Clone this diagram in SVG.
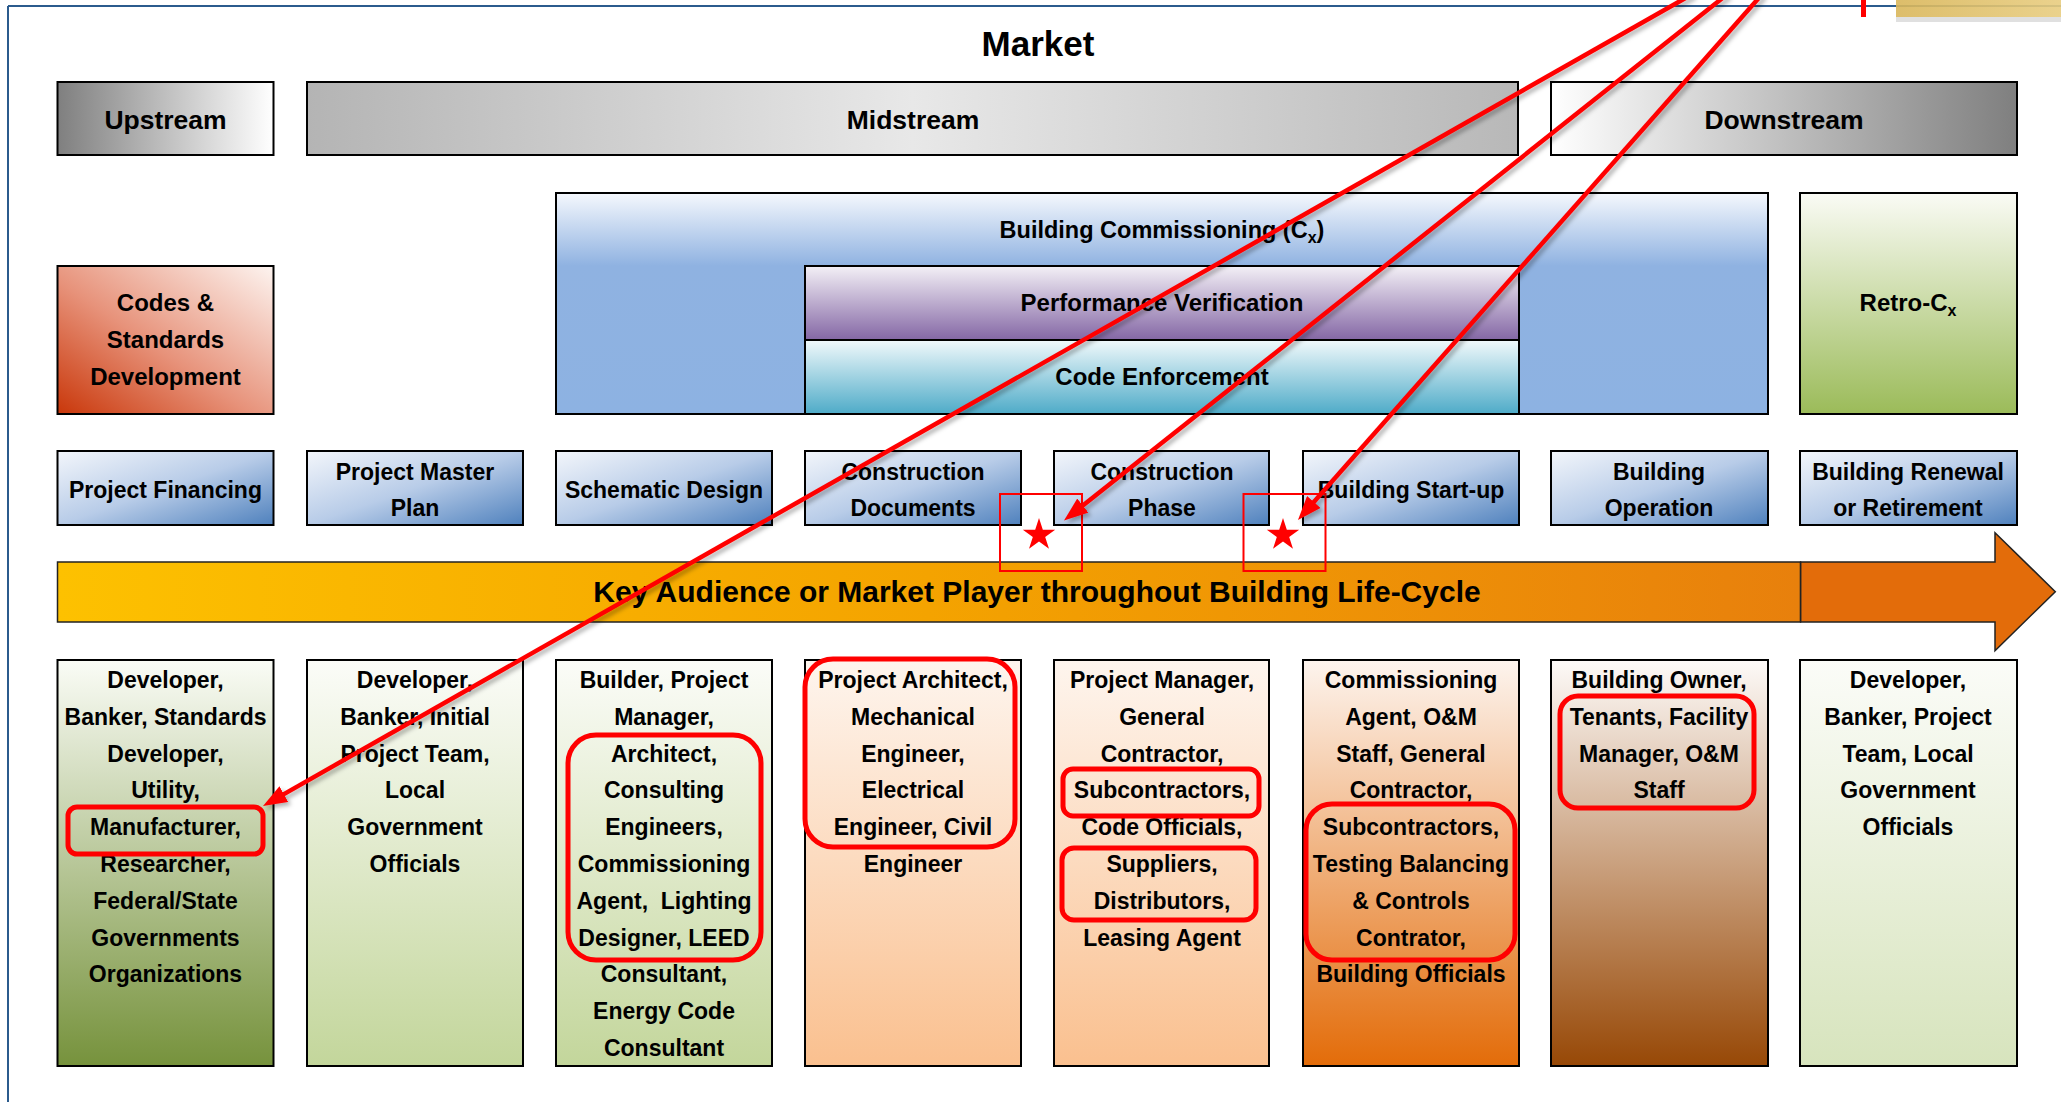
<svg xmlns="http://www.w3.org/2000/svg" width="2061" height="1102" viewBox="0 0 2061 1102">
<style>
.t{font-family:"Liberation Sans",Arial,sans-serif;font-weight:bold;fill:#000;text-anchor:middle}
.s23{font-size:23px}
.s24{font-size:24px}
.s26{font-size:26.5px}
.box{stroke:#000;stroke-width:2}
.hl{fill:none;stroke:#ff0000;stroke-width:5}
.sb{fill:none;stroke:#ff0000;stroke-width:2}
.conn{stroke:#ff0000;stroke-width:4.5;fill:none;marker-end:url(#ah)}
</style>
<defs>
<marker id="ah" markerUnits="userSpaceOnUse" markerWidth="24" markerHeight="18" viewBox="0 0 24 18" refX="4" refY="9" orient="auto"><path d="M0,0 L24,9 L0,18 z" fill="#ff0000"/></marker>
<filter id="sh" x="-5%" y="-5%" width="110%" height="110%"><feDropShadow dx="3" dy="3" stdDeviation="2" flood-color="#000" flood-opacity="0.3"/></filter>
<polygon id="star" points="0,-17 3.82,-5.26 16.17,-5.25 6.18,2.01 9.99,13.75 0,6.5 -9.99,13.75 -6.18,2.01 -16.17,-5.25 -3.82,-5.26" fill="#ff0000"/>
<linearGradient id="gUp" x1="0" y1="0" x2="1" y2="0"><stop offset="0" stop-color="#7f7f7f"/><stop offset="1" stop-color="#ffffff"/></linearGradient>
<linearGradient id="gMid" x1="0" y1="0" x2="1" y2="0"><stop offset="0" stop-color="#b4b4b4"/><stop offset="0.5" stop-color="#e8e8e8"/><stop offset="1" stop-color="#b8b8b8"/></linearGradient>
<linearGradient id="gDown" x1="0" y1="0" x2="1" y2="0"><stop offset="0" stop-color="#ffffff"/><stop offset="1" stop-color="#7f7f7f"/></linearGradient>
<linearGradient id="gCx" x1="0" y1="0" x2="0" y2="1"><stop offset="0" stop-color="#f5f8fd"/><stop offset="0.33" stop-color="#8fb2e1"/><stop offset="1" stop-color="#8db2e2"/></linearGradient>
<linearGradient id="gPV" x1="0" y1="0" x2="0" y2="1"><stop offset="0" stop-color="#f3f0f6"/><stop offset="1" stop-color="#8467a5"/></linearGradient>
<linearGradient id="gCE" x1="0" y1="0" x2="0" y2="1"><stop offset="0" stop-color="#f1f9fb"/><stop offset="1" stop-color="#4eabc8"/></linearGradient>
<linearGradient id="gCS" x1="1" y1="0" x2="0" y2="1"><stop offset="0" stop-color="#fdf4f0"/><stop offset="0.55" stop-color="#e7927a"/><stop offset="1" stop-color="#c9370a"/></linearGradient>
<linearGradient id="gRe" x1="0" y1="0" x2="0" y2="1"><stop offset="0" stop-color="#fafbf5"/><stop offset="1" stop-color="#9bbb59"/></linearGradient>
<linearGradient id="gPh" x1="0" y1="0" x2="1" y2="1"><stop offset="0" stop-color="#f3f6fb"/><stop offset="0.5" stop-color="#b8cce8"/><stop offset="1" stop-color="#4f81bd"/></linearGradient>
<linearGradient id="gKey" x1="0" y1="0" x2="1" y2="0"><stop offset="0" stop-color="#fdc100"/><stop offset="0.5" stop-color="#f4a300"/><stop offset="1" stop-color="#e8800c"/></linearGradient>
<linearGradient id="gC1" x1="0" y1="0" x2="0" y2="1"><stop offset="0" stop-color="#fafcf6"/><stop offset="1" stop-color="#76923c"/></linearGradient>
<linearGradient id="gC2" x1="0" y1="0" x2="0" y2="1"><stop offset="0" stop-color="#fbfcf8"/><stop offset="1" stop-color="#c3d69b"/></linearGradient>
<linearGradient id="gC4" x1="0" y1="0" x2="0" y2="1"><stop offset="0" stop-color="#fef5ee"/><stop offset="1" stop-color="#fac08f"/></linearGradient>
<linearGradient id="gC6" x1="0" y1="0" x2="0" y2="1"><stop offset="0" stop-color="#fdf4ee"/><stop offset="1" stop-color="#e36c09"/></linearGradient>
<linearGradient id="gC7" x1="0" y1="0" x2="0" y2="1"><stop offset="0" stop-color="#fdfaf8"/><stop offset="1" stop-color="#974806"/></linearGradient>
<linearGradient id="gC8" x1="0" y1="0" x2="0" y2="1"><stop offset="0" stop-color="#fbfcf8"/><stop offset="1" stop-color="#d7e4bd"/></linearGradient>
<linearGradient id="gY" x1="0" y1="0" x2="1" y2="0"><stop offset="0" stop-color="#d9b65a"/><stop offset="1" stop-color="#e8cd80"/></linearGradient>
</defs>
<rect width="2061" height="1102" fill="#ffffff"/>
<g id="frame">
<line x1="8" y1="6" x2="2061" y2="6" stroke="#2b5b8d" stroke-width="2"/>
<line x1="8" y1="6" x2="8" y2="1102" stroke="#2b5b8d" stroke-width="2"/>
<rect x="1896" y="17" width="165" height="5" fill="#000" opacity="0.12"/>
<rect x="1896" y="0" width="165" height="17" fill="url(#gY)" opacity="0.9"/>
<rect x="1861" y="0" width="5" height="17" fill="#ff0000"/>
</g>
<g id="title"><text class="t" x="1038" y="56" style="font-size:35px">Market</text></g>
<g id="upstream"><rect class="box" x="57.5" y="82" width="216" height="73" fill="url(#gUp)"/><text class="t s26" x="165.5" y="129">Upstream</text></g>
<g id="midstream"><rect class="box" x="307" y="82" width="1211" height="73" fill="url(#gMid)"/><text class="t s26" x="913" y="129">Midstream</text></g>
<g id="downstream"><rect class="box" x="1551" y="82" width="466" height="73" fill="url(#gDown)"/><text class="t s26" x="1784" y="129">Downstream</text></g>
<g id="codes-standards"><rect class="box" x="57.5" y="266" width="216" height="148" fill="url(#gCS)"/><text class="t s24" x="165.5" y="311">Codes &amp;<tspan x="165.5" y="348">Standards</tspan><tspan x="165.5" y="385">Development</tspan></text></g>
<g id="commissioning"><rect class="box" x="556" y="193" width="1212" height="221" fill="url(#gCx)"/><text class="t" x="1162" y="238" style="font-size:23.5px">Building Commissioning (C<tspan font-size="16" dy="5">x</tspan><tspan dy="-5">)</tspan></text></g>
<g id="performance-verification"><rect class="box" x="805" y="266" width="714" height="74" fill="url(#gPV)"/><text class="t s24" x="1162" y="311">Performance Verification</text></g>
<g id="code-enforcement"><rect class="box" x="805" y="340" width="714" height="74" fill="url(#gCE)"/><text class="t s24" x="1162" y="385">Code Enforcement</text></g>
<g id="retro-cx"><rect class="box" x="1800" y="193" width="217" height="221" fill="url(#gRe)"/><text class="t s24" x="1908" y="311">Retro-C<tspan font-size="16" dy="5">x</tspan></text></g>
<g id="project-financing"><rect class="box" x="57.5" y="451" width="216" height="74" fill="url(#gPh)"/><text class="t s23" x="165.5" y="498">Project Financing</text></g>
<g id="project-master-plan"><rect class="box" x="307" y="451" width="216" height="74" fill="url(#gPh)"/><text class="t s23" x="415" y="480">Project Master<tspan x="415" y="516">Plan</tspan></text></g>
<g id="schematic-design"><rect class="box" x="556" y="451" width="216" height="74" fill="url(#gPh)"/><text class="t s23" x="664" y="498">Schematic Design</text></g>
<g id="construction-documents"><rect class="box" x="805" y="451" width="216" height="74" fill="url(#gPh)"/><text class="t s23" x="913" y="480">Construction<tspan x="913" y="516">Documents</tspan></text></g>
<g id="construction-phase"><rect class="box" x="1054" y="451" width="215" height="74" fill="url(#gPh)"/><text class="t s23" x="1162" y="480">Construction<tspan x="1162" y="516">Phase</tspan></text></g>
<g id="building-startup"><rect class="box" x="1303" y="451" width="216" height="74" fill="url(#gPh)"/><text class="t s23" x="1411" y="498">Building Start-up</text></g>
<g id="building-operation"><rect class="box" x="1551" y="451" width="217" height="74" fill="url(#gPh)"/><text class="t s23" x="1659" y="480">Building<tspan x="1659" y="516">Operation</tspan></text></g>
<g id="building-renewal"><rect class="box" x="1800" y="451" width="217" height="74" fill="url(#gPh)"/><text class="t s23" x="1908" y="480">Building Renewal<tspan x="1908" y="516">or Retirement</tspan></text></g>
<g id="key-audience-arrow">
<rect x="57.5" y="562" width="1743" height="60" fill="url(#gKey)" stroke="#222" stroke-width="1.5"/>
<path d="M1800.7,562 L1995,562 L1995,532.7 L2055.3,591.7 L1995,650.7 L1995,622 L1800.7,622 Z" fill="#e36c0a" stroke="#222" stroke-width="1.5"/>
<text class="t" x="1037" y="602" style="font-size:30px">Key Audience or Market Player throughout Building Life-Cycle</text>
</g>
<g id="col-upstream-players"><rect class="box" x="57.5" y="660" width="216" height="406" fill="url(#gC1)"/><text class="t s23" x="165.5" y="688"><tspan x="165.5" dy="0">Developer,</tspan><tspan x="165.5" dy="36.8">Banker, Standards</tspan><tspan x="165.5" dy="36.8">Developer,</tspan><tspan x="165.5" dy="36.8">Utility,</tspan><tspan x="165.5" dy="36.8">Manufacturer,</tspan><tspan x="165.5" dy="36.8">Researcher,</tspan><tspan x="165.5" dy="36.8">Federal/State</tspan><tspan x="165.5" dy="36.8">Governments</tspan><tspan x="165.5" dy="36.8">Organizations</tspan></text></g>
<g id="col-master-plan-players"><rect class="box" x="307" y="660" width="216" height="406" fill="url(#gC2)"/><text class="t s23" x="415" y="688"><tspan x="415" dy="0">Developer,</tspan><tspan x="415" dy="36.8">Banker, Initial</tspan><tspan x="415" dy="36.8">Project Team,</tspan><tspan x="415" dy="36.8">Local</tspan><tspan x="415" dy="36.8">Government</tspan><tspan x="415" dy="36.8">Officials</tspan></text></g>
<g id="col-schematic-players"><rect class="box" x="556" y="660" width="216" height="406" fill="url(#gC2)"/><text class="t s23" x="664" y="688"><tspan x="664" dy="0">Builder, Project</tspan><tspan x="664" dy="36.8">Manager,</tspan><tspan x="664" dy="36.8">Architect,</tspan><tspan x="664" dy="36.8">Consulting</tspan><tspan x="664" dy="36.8">Engineers,</tspan><tspan x="664" dy="36.8">Commissioning</tspan><tspan x="664" dy="36.8" xml:space="preserve">Agent,  Lighting</tspan><tspan x="664" dy="36.8">Designer, LEED</tspan><tspan x="664" dy="36.8">Consultant,</tspan><tspan x="664" dy="36.8">Energy Code</tspan><tspan x="664" dy="36.8">Consultant</tspan></text></g>
<g id="col-documents-players"><rect class="box" x="805" y="660" width="216" height="406" fill="url(#gC4)"/><text class="t s23" x="913" y="688"><tspan x="913" dy="0">Project Architect,</tspan><tspan x="913" dy="36.8">Mechanical</tspan><tspan x="913" dy="36.8">Engineer,</tspan><tspan x="913" dy="36.8">Electrical</tspan><tspan x="913" dy="36.8">Engineer, Civil</tspan><tspan x="913" dy="36.8">Engineer</tspan></text></g>
<g id="col-construction-players"><rect class="box" x="1054" y="660" width="215" height="406" fill="url(#gC4)"/><text class="t s23" x="1162" y="688"><tspan x="1162" dy="0">Project Manager,</tspan><tspan x="1162" dy="36.8">General</tspan><tspan x="1162" dy="36.8">Contractor,</tspan><tspan x="1162" dy="36.8">Subcontractors,</tspan><tspan x="1162" dy="36.8">Code Officials,</tspan><tspan x="1162" dy="36.8">Suppliers,</tspan><tspan x="1162" dy="36.8">Distributors,</tspan><tspan x="1162" dy="36.8">Leasing Agent</tspan></text></g>
<g id="col-startup-players"><rect class="box" x="1303" y="660" width="216" height="406" fill="url(#gC6)"/><text class="t s23" x="1411" y="688"><tspan x="1411" dy="0">Commissioning</tspan><tspan x="1411" dy="36.8">Agent, O&amp;M</tspan><tspan x="1411" dy="36.8">Staff, General</tspan><tspan x="1411" dy="36.8">Contractor,</tspan><tspan x="1411" dy="36.8">Subcontractors,</tspan><tspan x="1411" dy="36.8">Testing Balancing</tspan><tspan x="1411" dy="36.8">&amp; Controls</tspan><tspan x="1411" dy="36.8">Contrator,</tspan><tspan x="1411" dy="36.8">Building Officials</tspan></text></g>
<g id="col-operation-players"><rect class="box" x="1551" y="660" width="217" height="406" fill="url(#gC7)"/><text class="t s23" x="1659" y="688"><tspan x="1659" dy="0">Building Owner,</tspan><tspan x="1659" dy="36.8">Tenants, Facility</tspan><tspan x="1659" dy="36.8">Manager, O&amp;M</tspan><tspan x="1659" dy="36.8">Staff</tspan></text></g>
<g id="col-renewal-players"><rect class="box" x="1800" y="660" width="217" height="406" fill="url(#gC8)"/><text class="t s23" x="1908" y="688"><tspan x="1908" dy="0">Developer,</tspan><tspan x="1908" dy="36.8">Banker, Project</tspan><tspan x="1908" dy="36.8">Team, Local</tspan><tspan x="1908" dy="36.8">Government</tspan><tspan x="1908" dy="36.8">Officials</tspan></text></g>
<g id="highlights">
<rect class="hl" x="68" y="807" width="195" height="47" rx="9"/>
<rect class="hl" x="568" y="735" width="193" height="225" rx="28"/>
<rect class="hl" x="805" y="659" width="210" height="188" rx="28"/>
<rect class="hl" x="1063" y="769" width="196" height="47" rx="10"/>
<rect class="hl" x="1062" y="848" width="194" height="72" rx="12"/>
<rect class="hl" x="1306" y="804" width="209" height="156" rx="26"/>
<rect class="hl" x="1560" y="696" width="194" height="112" rx="18"/>
</g>
<g id="star-marks">
<rect class="sb" x="1000" y="494" width="82" height="77"/>
<use href="#star" x="1039" y="535"/>
<rect class="sb" x="1243.5" y="494" width="82" height="77"/>
<use href="#star" x="1283" y="535"/>
</g>
<g id="connectors" filter="url(#sh)">
<path class="conn" d="M1692.6,-6 L280.4,796.1"/>
<path class="conn" d="M1727.6,-6 L1079.7,508.1"/>
<path class="conn" d="M1762.3,-6 L1311.2,505"/>
</g>
</svg>
